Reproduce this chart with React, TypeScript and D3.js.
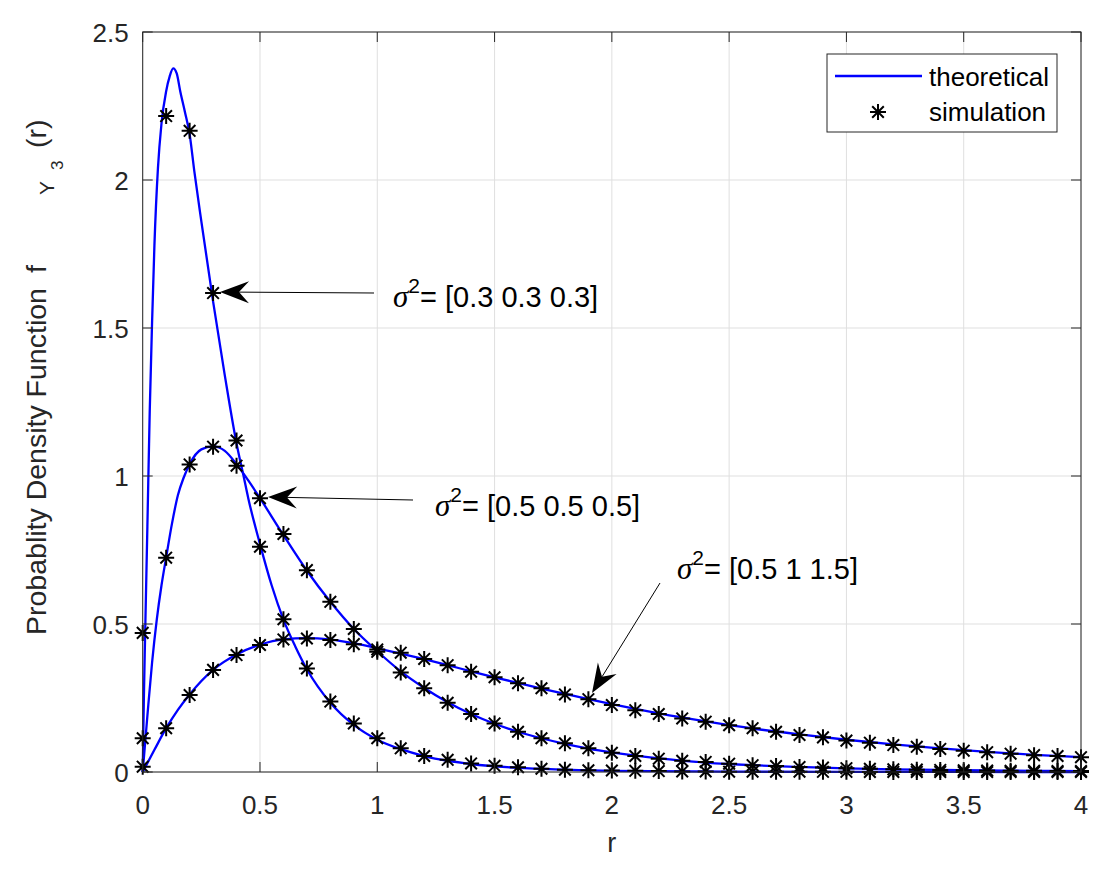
import React from "react";
import * as d3 from "d3";

// ---------- data ----------
const simR = [0, 0.1, 0.2, 0.3, 0.4, 0.5, 0.6, 0.7, 0.8, 0.9, 1.0, 1.1, 1.2, 1.3, 1.4, 1.5, 1.6, 1.7, 1.8, 1.9, 2.0,
  2.1, 2.2, 2.3, 2.4, 2.5, 2.6, 2.7, 2.8, 2.9, 3.0, 3.1, 3.2, 3.3, 3.4, 3.5, 3.6, 3.7, 3.8, 3.9, 4.0];

const sim03 = [0.47, 2.216, 2.166, 1.618, 1.12, 0.761, 0.516, 0.35, 0.238, 0.164, 0.114, 0.08, 0.054, 0.041, 0.029,
  0.021, 0.016, 0.011, 0.008, 0.006, 0.005, 0.004, 0.003, 0.002, 0.002, 0.001, 0.001, 0.001, 0.001, 0.0005, 0.0005,
  0.0004, 0.0003, 0.0002, 0.0002, 0.0001, 0.0001, 0, 0, 0, 0];

const sim05 = [0.114, 0.724, 1.039, 1.099, 1.035, 0.925, 0.804, 0.682, 0.575, 0.483, 0.406, 0.336, 0.283, 0.234,
  0.196, 0.164, 0.136, 0.114, 0.097, 0.08, 0.065, 0.054, 0.045, 0.038, 0.034, 0.028, 0.023, 0.02, 0.017, 0.015,
  0.013, 0.011, 0.009, 0.008, 0.007, 0.006, 0.005, 0.004, 0.004, 0.003, 0.003];

const sim0515 = [0.018, 0.148, 0.26, 0.345, 0.395, 0.429, 0.448, 0.451, 0.446, 0.432, 0.414, 0.403, 0.382, 0.361,
  0.339, 0.32, 0.3, 0.283, 0.262, 0.246, 0.226, 0.209, 0.196, 0.181, 0.17, 0.158, 0.148, 0.136, 0.125, 0.117,
  0.106, 0.099, 0.091, 0.085, 0.078, 0.072, 0.067, 0.062, 0.057, 0.054, 0.05];

const theoR03 = [0, 0.005, 0.01, 0.02, 0.03, 0.04, 0.05, 0.065, 0.08, 0.1, 0.115, 0.13, 0.145, 0.16, 0.18, 0.2, 0.22,
  0.25, 0.3, 0.35, 0.4, 0.43, 0.45, 0.5, 0.55, 0.6, 0.65, 0.7, 0.8, 0.9, 1.0, 1.1, 1.2, 1.3, 1.4, 1.6, 1.8, 2.0,
  2.5, 3.0, 4.0];
const theo03 = [0, 0.25, 0.45, 0.83, 1.22, 1.52, 1.78, 2.04, 2.19, 2.3, 2.35, 2.377, 2.36, 2.3, 2.23, 2.155, 2.03,
  1.86, 1.59, 1.34, 1.11, 1.0, 0.925, 0.77, 0.63, 0.515, 0.425, 0.347, 0.234, 0.159, 0.109, 0.077, 0.054, 0.038,
  0.027, 0.014, 0.008, 0.004, 0.001, 0.0003, 0];

const theoR05 = [0, 0.02, 0.04, 0.06, 0.08, 0.1, 0.125, 0.15, 0.175, 0.2, 0.25, 0.3, 0.35, 0.4, 0.45, 0.5, 0.6, 0.7,
  0.8, 0.9, 1.0, 1.1, 1.2, 1.3, 1.4, 1.5, 1.6, 1.7, 1.8, 1.9, 2.0, 2.2, 2.4, 2.6, 2.8, 3.0, 3.2, 3.4, 3.6, 3.8, 4.0];
const theo05 = [0, 0.19, 0.37, 0.515, 0.63, 0.725, 0.84, 0.935, 0.995, 1.04, 1.09, 1.1, 1.085, 1.04, 0.985, 0.925,
  0.8, 0.68, 0.575, 0.483, 0.408, 0.34, 0.284, 0.236, 0.196, 0.163, 0.136, 0.114, 0.095, 0.079, 0.066, 0.046, 0.032,
  0.023, 0.017, 0.012, 0.009, 0.007, 0.005, 0.004, 0.003];

const theoR0515 = [0, 0.05, 0.1, 0.15, 0.2, 0.3, 0.4, 0.5, 0.6, 0.7, 0.8, 0.9, 1.0, 1.1, 1.2, 1.3, 1.4, 1.5, 1.6, 1.7,
  1.8, 1.9, 2.0, 2.2, 2.4, 2.6, 2.8, 3.0, 3.2, 3.4, 3.6, 3.8, 4.0];
const theo0515 = [0, 0.075, 0.148, 0.21, 0.262, 0.345, 0.397, 0.43, 0.448, 0.452, 0.447, 0.435, 0.418, 0.4, 0.381,
  0.361, 0.34, 0.32, 0.301, 0.282, 0.264, 0.246, 0.229, 0.198, 0.171, 0.147, 0.127, 0.109, 0.093, 0.08, 0.068,
  0.058, 0.05];

const xTicks = [0, 0.5, 1, 1.5, 2, 2.5, 3, 3.5, 4];
const yTicks = [0, 0.5, 1, 1.5, 2, 2.5];
const xTickLabels = ["0", "0.5", "1", "1.5", "2", "2.5", "3", "3.5", "4"];
const yTickLabels = ["0", "0.5", "1", "1.5", "2", "2.5"];
const legendLabels = ["theoretical", "simulation"];
const annotations = [
  { text: "[0.3 0.3 0.3]", tx: 393, ty: 307, x1: 374, y1: 293, x2: 220, y2: 292 },
  { text: "[0.5 0.5 0.5]", tx: 435, ty: 516, x1: 413, y1: 500, x2: 268, y2: 497 },
  { text: "[0.5 1 1.5]", tx: 677, ty: 579, x1: 660, y1: 583, x2: 592, y2: 693 },
];

// ---------- layout ----------
const W = 1110, H = 878;
const L = 142.7, R = 1081, T = 32, B = 772;
const AX = "#262626";
const GRID = "#dfdfdf";
const BLUE = "#0000ff";
const SANS = "'Liberation Sans', Arial, Helvetica, sans-serif";
const SERIF = "'Liberation Serif', 'Times New Roman', serif";

const x = d3.scaleLinear().domain([0, 4]).range([L, R]);
const y = d3.scaleLinear().domain([0, 2.5]).range([B, T]);

const line = d3.line<[number, number]>()
  .x(d => x(d[0]))
  .y(d => y(d[1]))
  .curve(d3.curveMonotoneX);

const zip = (a: number[], b: number[]) => a.map((v, i) => [v, b[i]] as [number, number]);

const STAR = "M-8,0H8M0,-8V8M-5.8,-5.8L5.8,5.8M-5.8,5.8L5.8,-5.8";

function Star({ cx, cy }: { cx: number; cy: number }) {
  return <path d={STAR} transform={`translate(${cx},${cy})`} stroke="#000" strokeWidth={2} fill="none" />;
}

function Arrow({ x1, y1, x2, y2 }: { x1: number; y1: number; x2: number; y2: number }) {
  const dx = x2 - x1, dy = y2 - y1;
  const len = Math.hypot(dx, dy);
  const ux = dx / len, uy = dy / len;
  const px = -uy, py = ux;
  const hl = 29, hw = 11, notch = 19;
  const bx = x2 - ux * hl, by = y2 - uy * hl;
  const nx = x2 - ux * notch, ny = y2 - uy * notch;
  const pts = [
    [x2, y2],
    [bx + px * hw, by + py * hw],
    [nx, ny],
    [bx - px * hw, by - py * hw],
  ];
  return (
    <g>
      <line x1={x1} y1={y1} x2={nx} y2={ny} stroke="#000" strokeWidth={1} />
      <polygon points={pts.map(p => p.join(",")).join(" ")} fill="#000" />
    </g>
  );
}

export default function App() {
  const series = [
    { r: theoR03, v: theo03 },
    { r: theoR05, v: theo05 },
    { r: theoR0515, v: theo0515 },
  ];
  const sims = [sim03, sim05, sim0515];

  return (
    <svg width={W} height={H} style={{ position: "absolute", left: 0, top: 0, background: "#fff" }}
      fontFamily={SANS}>
      <rect x={0} y={0} width={W} height={H} fill="#fff" />
      {/* grid */}
      {xTicks.map(t => (
        <line key={"gx" + t} x1={x(t)} x2={x(t)} y1={T} y2={B} stroke={GRID} strokeWidth={1} />
      ))}
      {yTicks.map(t => (
        <line key={"gy" + t} x1={L} x2={R} y1={y(t)} y2={y(t)} stroke={GRID} strokeWidth={1} />
      ))}

      {/* theoretical lines */}
      {series.map((s, i) => (
        <path key={"l" + i} d={line(zip(s.r, s.v)) || ""} fill="none" stroke={BLUE} strokeWidth={2.3} />
      ))}

      {/* simulation markers */}
      {sims.map((s, i) => s.map((v, j) => <Star key={`s${i}-${j}`} cx={x(simR[j])} cy={y(v)} />))}

      {/* axes box */}
      <rect x={L} y={T} width={R - L} height={B - T} fill="none" stroke={AX} strokeWidth={1} />
      {xTicks.map(t => (
        <g key={"tx" + t}>
          <line x1={x(t)} x2={x(t)} y1={B} y2={B - 10} stroke={AX} />
          <line x1={x(t)} x2={x(t)} y1={T} y2={T + 10} stroke={AX} />
        </g>
      ))}
      {yTicks.map(t => (
        <g key={"ty" + t}>
          <line x1={L} x2={L + 10} y1={y(t)} y2={y(t)} stroke={AX} />
          <line x1={R} x2={R - 10} y1={y(t)} y2={y(t)} stroke={AX} />
        </g>
      ))}

      {/* tick labels */}
      {xTicks.map((t, i) => (
        <text key={"xl" + t} x={x(t)} y={B + 42} textAnchor="middle" fontSize={26} fill={AX}>{xTickLabels[i]}</text>
      ))}
      {yTicks.map((t, i) => (
        <text key={"yl" + t} x={L - 14} y={y(t) + 10} textAnchor="end" fontSize={26} fill={AX}>{yTickLabels[i]}</text>
      ))}

      {/* axis labels */}
      <text x={(L + R) / 2} y={852} textAnchor="middle" fontSize={27} fill={AX}>r</text>
      <g transform="translate(46,635) rotate(-90)" fill={AX} fontSize={28.5}>
        <text x={0} y={0}>Probablity Density Function</text>
        <text x={362} y={0}>f</text>
        <text x={440} y={8} fontSize={21}>Y</text>
        <text x={465} y={17} fontSize={17}>3</text>
        <text x={487} y={0}>(r)</text>
      </g>

      {/* annotations */}
      {annotations.map((a, i) => (
        <g key={"an" + i}>
          <Arrow x1={a.x1} y1={a.y1} x2={a.x2} y2={a.y2} />
          <text x={a.tx} y={a.ty} fontSize={29} fill="#000">
            <tspan fontFamily={SERIF} fontStyle="italic" fontSize={31}>σ</tspan>
            <tspan fontSize={21} dy={-14}>2</tspan>
            <tspan dy={14}>= {a.text}</tspan>
          </text>
        </g>
      ))}

      {/* legend */}
      <rect x={827} y={54} width={230} height={78} fill="#fff" stroke={AX} strokeWidth={1} />
      <line x1={835} x2={922} y1={76} y2={76} stroke={BLUE} strokeWidth={2.6} />
      <text x={929} y={86} fontSize={26} fill="#000">{legendLabels[0]}</text>
      <Star cx={878} cy={112} />
      <text x={929} y={121} fontSize={26} fill="#000">{legendLabels[1]}</text>
    </svg>
  );
}
